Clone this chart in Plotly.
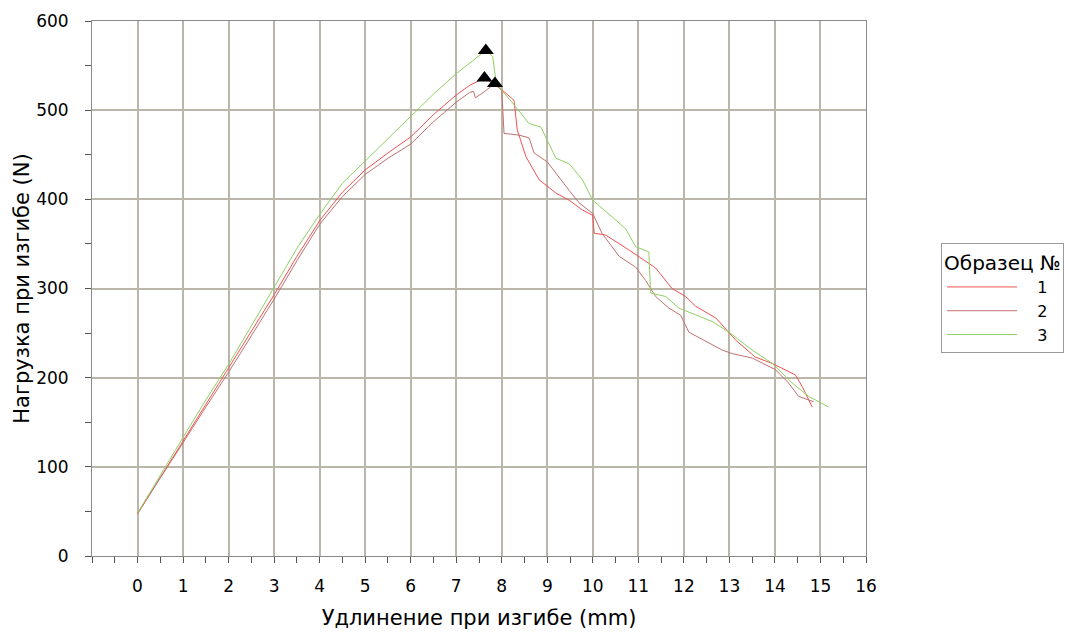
import plotly.graph_objects as go

# Sample 1 (bright red)
x1 = [0, 0.5, 1, 1.5, 2, 2.5, 3, 3.5, 4, 4.5, 5, 5.5, 6, 6.5, 7, 7.3, 7.62, 7.8, 8.0, 8.27,
      8.34, 8.53, 8.82, 9.19, 9.48, 9.77, 10.0, 10.03, 10.28, 10.8, 11.38, 11.74, 12.04, 12.26,
      12.7, 13.14, 13.57, 13.94, 14.45, 14.6, 14.82]
y1 = [47, 88, 129, 170, 210, 252, 293, 336, 376, 408, 433, 452, 470, 495, 517, 528, 536, 530, 523, 511,
      478, 448, 422, 407, 399, 388, 382, 362, 360, 343, 323, 300, 291, 280,
      267, 242, 223, 216, 203, 190, 167]

# Sample 2 (brownish red)
x2 = [0, 0.5, 1, 1.5, 2, 2.5, 3, 3.5, 4, 4.5, 5, 5.5, 6, 6.5, 7, 7.3, 7.38, 7.42, 7.6, 7.85,
      8.0, 8.05, 8.38, 8.6, 8.71, 9.0, 9.19, 9.48, 9.7, 10.0, 10.2, 10.58, 10.94, 11.16, 11.38,
      11.67, 11.93, 12.11, 12.44, 12.84, 13.06, 13.5, 14.01, 14.3, 14.52, 14.85]
y2 = [48, 87, 127, 167, 206, 247, 288, 331, 372, 403, 428, 446, 462, 487, 509, 520, 521, 514, 520, 530,
      522, 474, 472, 469, 452, 442, 429, 410, 396, 384, 362, 336, 324, 309, 291,
      278, 270, 251, 242, 231, 227, 222, 209, 194, 179, 173]

# Sample 3 (green)
x3 = [0, 0.5, 1, 1.5, 2, 2.5, 3, 3.5, 4, 4.5, 5, 5.5, 6, 6.5, 7, 7.3, 7.65, 7.8, 7.87, 8.0,
      8.24, 8.6, 8.86, 9.19, 9.48, 9.77, 10.0, 10.43, 10.72, 10.94, 11.23, 11.27, 11.6, 11.89,
      12.18, 12.62, 12.99, 13.5, 13.94, 14.38, 14.74, 15.18]
y3 = [48, 91, 133, 175, 215, 258, 302, 345, 383, 418, 443, 468, 494, 518, 541, 553, 567, 560, 534, 522,
      508, 485, 481, 446, 440, 422, 399, 380, 367, 347, 341, 295, 291, 278,
      272, 263, 251, 231, 216, 194, 179, 167]

names = ["1", "2", "3"]
colors = ["#f05252", "#c27070", "#8fd062"]
series = [(x1, y1), (x2, y2), (x3, y3)]

x_ticks = list(range(0, 17))
y_ticks = list(range(0, 601, 100))

fig = go.Figure()
pad = "\u00a0" * 3
for (xs, ys), nm, col in zip(series, names, colors):
    fig.add_trace(go.Scatter(x=xs, y=ys, mode="lines", name=pad + nm,
                             line=dict(color=col, width=1)))

# peak markers from data
px_, py_ = [], []
for xs, ys in series:
    i = max(range(len(ys)), key=lambda k: ys[k])
    px_.append(xs[i])
    py_.append(ys[i])
fig.add_trace(go.Scatter(x=px_, y=py_, mode="markers", showlegend=False,
                         marker=dict(symbol="triangle-up", size=14, color="black")))

grid = "#bbb6aa"
axline = "#8a8a8a"
font = "DejaVu Sans"

fig.update_layout(
    width=1065, height=635,
    margin=dict(l=92, r=199, t=21, b=79, autoexpand=False),
    paper_bgcolor="white", plot_bgcolor="white",
    font=dict(family=font, size=17, color="black"),
    showlegend=True,
    legend=dict(
        title=dict(text="Образец №", font=dict(size=20)),
        x=1.097, xanchor="left", y=0.585, yanchor="top",
        bordercolor="#9a9a9a", borderwidth=1, bgcolor="white",
        font=dict(size=16), itemwidth=70, tracegroupgap=0,
    ),
    xaxis=dict(
        range=[-1, 16], tickmode="array", tickvals=x_ticks,
        ticktext=[str(v) for v in x_ticks],
        showgrid=True, gridcolor=grid, gridwidth=2, zeroline=False,
        showline=True, linecolor=axline, linewidth=1, mirror=True,
        ticks="outside", ticklen=6, tickcolor="#555", ticklabelstandoff=9,
        minor=dict(tick0=-1, dtick=0.5, ticks="outside", ticklen=6, tickcolor="#555", showgrid=False),
        title=dict(text="Удлинение при изгибе (mm)", font=dict(size=21), standoff=14),
        automargin=False,
    ),
    yaxis=dict(
        range=[0, 600], tickmode="array", tickvals=y_ticks,
        ticktext=[str(v) for v in y_ticks],
        showgrid=True, gridcolor=grid, gridwidth=2, zeroline=False,
        showline=True, linecolor=axline, linewidth=1, mirror=True,
        ticks="outside", ticklen=6, tickcolor="#555", ticklabelstandoff=13,
        minor=dict(tick0=0, dtick=50, ticks="outside", ticklen=6, tickcolor="#555", showgrid=False),
        title=dict(text="Нагрузка при изгибе (N)", font=dict(size=21), standoff=0),
        automargin=False,
    ),
)

fig.write_html("out.html")
